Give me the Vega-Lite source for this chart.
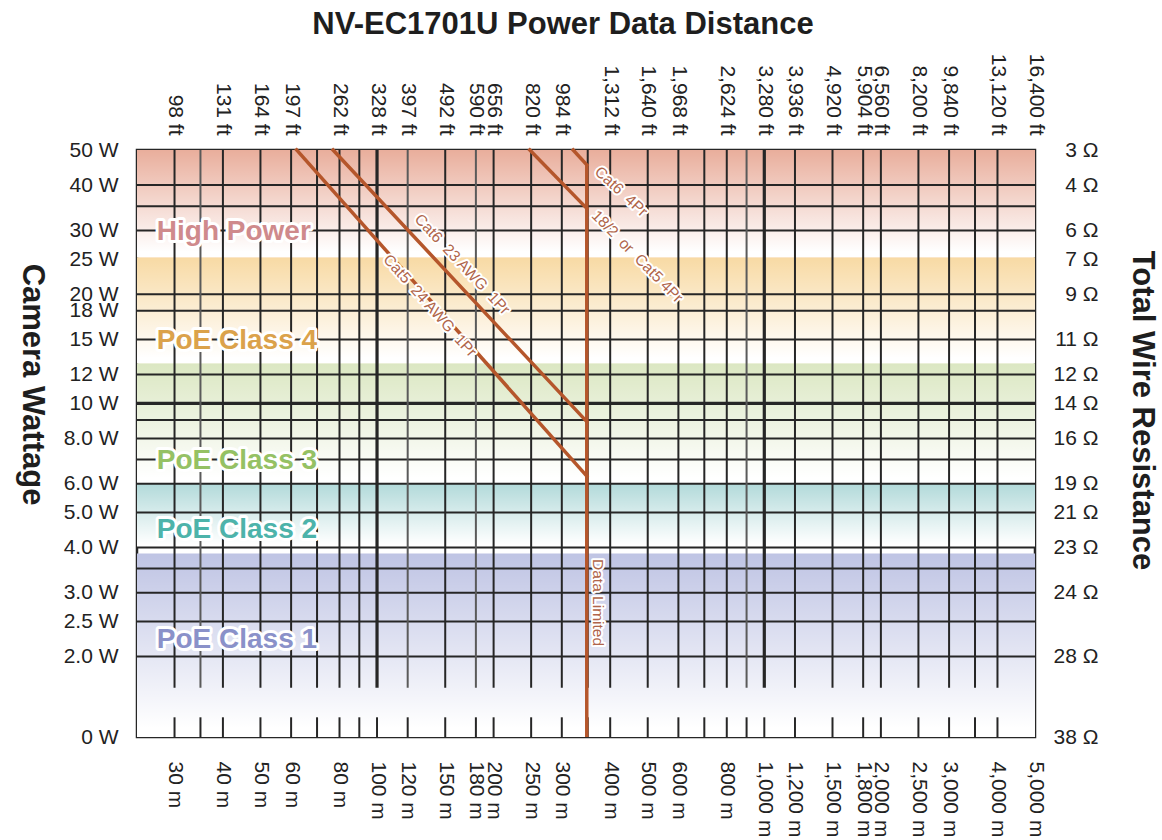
{
  "$schema": "https://vega.github.io/schema/vega-lite/v6.json",
  "width": 898,
  "height": 587,
  "autosize": {"type": "none"},
  "padding": {"left": 137, "top": 150, "right": 127, "bottom": 103},
  "background": "#ffffff",
  "config": {
    "view": {"stroke": "#262626", "strokeWidth": 2.5},
    "axis": {
      "labelFont": "Liberation Sans",
      "labelFontSize": 21,
      "labelColor": "#222222",
      "ticks": false,
      "domain": false,
      "grid": false,
      "labelOverlap": false,
      "labelFlush": false,
      "labelBound": false,
      "titleFont": "Liberation Sans",
      "titleFontSize": 31,
      "titleFontWeight": "bold",
      "titleColor": "#1e1e1e"
    }
  },
  "title": {
    "text": "NV-EC1701U Power Data Distance",
    "font": "Liberation Sans",
    "fontSize": 31,
    "fontWeight": "bold",
    "color": "#1e1e1e",
    "anchor": "middle",
    "frame": "group",
    "dx": -23,
    "offset": 12
  },
  "datasets": {
    "bands": [
      {"band": "High Power", "top": 50, "bottom": 25.3},
      {"band": "PoE Class 4", "top": 25.3, "bottom": 12.9},
      {"band": "PoE Class 3", "top": 12.9, "bottom": 6},
      {"band": "PoE Class 2", "top": 6, "bottom": 4},
      {"band": "PoE Class 1", "top": 3.85, "bottom": 1.2}
    ],
    "bandlabels": [
      {"band": "High Power", "m": 27, "W": 29.7},
      {"band": "PoE Class 4", "m": 27, "W": 14.9},
      {"band": "PoE Class 3", "m": 27, "W": 6.95},
      {"band": "PoE Class 2", "m": 27, "W": 4.47},
      {"band": "PoE Class 1", "m": 27, "W": 2.22}
    ],
    "hgrid": [
      {"W": 40}, {"W": 35}, {"W": 30}, {"W": 20}, {"W": 18}, {"W": 15}, {"W": 12}, {"W": 10}, {"W": 9},
      {"W": 8}, {"W": 7}, {"W": 6}, {"W": 5}, {"W": 4}, {"W": 3.5}, {"W": 3}, {"W": 2.5}, {"W": 2}
    ],
    "vgrid": [
      {"m": 30}, {"m": 35}, {"m": 40}, {"m": 50}, {"m": 60}, {"m": 70}, {"m": 80}, {"m": 90}, {"m": 100},
      {"m": 120}, {"m": 150}, {"m": 180}, {"m": 200}, {"m": 250}, {"m": 300}, {"m": 350}, {"m": 400},
      {"m": 500}, {"m": 600}, {"m": 700}, {"m": 800}, {"m": 900}, {"m": 1000}, {"m": 1200}, {"m": 1500},
      {"m": 1800}, {"m": 2000}, {"m": 2500}, {"m": 3000}, {"m": 3500}, {"m": 4000}
    ],
    "cables": [
      {"cable": "Cat5 24 AWG 1Pr", "m": 62, "W": 50},
      {"cable": "Cat5 24 AWG 1Pr", "m": 348, "W": 6.3},
      {"cable": "Cat6 23 AWG 1Pr", "m": 77, "W": 50},
      {"cable": "Cat6 23 AWG 1Pr", "m": 348, "W": 8.9},
      {"cable": "18/2 or Cat5 4Pr", "m": 248, "W": 50},
      {"cable": "18/2 or Cat5 4Pr", "m": 348, "W": 34.5},
      {"cable": "Cat6 4Pr", "m": 321, "W": 50},
      {"cable": "Cat6 4Pr", "m": 348, "W": 45.5}
    ],
    "limit": [
      {"cable": "Data Limited", "m": 348, "W": 1.2, "W2": 45.5}
    ],
    "linelabels": [
      {"label": "Cat6\u00a0\u00a023 AWG\u00a0\u00a01Pr", "m": 166, "W": 24.2},
      {"label": "Cat5\u00a0\u00a024 AWG\u00a0\u00a01Pr", "m": 137, "W": 18.6},
      {"label": "Cat6\u00a0\u00a04Pr", "m": 427, "W": 38.4},
      {"label": "18/2\u00a0\u00a0or\u00a0\u00a0Cat5 4Pr", "m": 470, "W": 25.4},
      {"label": "Data Limited", "m": 373, "W": 2.82}
    ]
  },
  "layer": [
    {
      "data": {"name": "bands"},
      "mark": {"type": "rect"},
      "encoding": {
        "x": {"datum": 24, "type": "quantitative", "scale": {"type": "log", "domain": [24, 5000], "nice": false}, "axis": null},
        "x2": {"datum": 5000},
        "y": {
          "field": "top", "type": "quantitative",
          "scale": {"type": "log", "domain": [1.2, 50], "nice": false},
          "axis": {
            "orient": "right",
            "values": [1.2, 2, 3, 4, 5, 6, 8, 10, 12, 15, 20, 25, 30, 40, 50],
            "labelExpr": "({'50':'3 Ω','40':'4 Ω','30':'6 Ω','25':'7 Ω','20':'9 Ω','15':'11 Ω','12':'12 Ω','10':'14 Ω','8':'16 Ω','6':'19 Ω','5':'21 Ω','4':'23 Ω','3':'24 Ω','2':'28 Ω','1.2':'38 Ω'})[datum.value]",
            "labelAlign": "right",
            "labelBaseline": "middle",
            "labelPadding": 63,
            "title": "Total Wire Resistance",
            "titleAngle": 90,
            "titleAlign": "center",
            "titleBaseline": "middle",
            "titleX": 106,
            "titleY": 260
          }
        },
        "y2": {"field": "bottom"},
        "color": {
          "field": "band", "type": "nominal",
          "scale": {
            "domain": ["High Power", "PoE Class 4", "PoE Class 3", "PoE Class 2", "PoE Class 1"],
            "range": ["#e9ae9c", "#f8daa4", "#dbe7c2", "#b2dada", "#bfc4e4"]
          },
          "legend": null
        }
      }
    },
    {
      "data": {"name": "bands"},
      "mark": {
        "type": "rect",
        "fill": {
          "gradient": "linear", "x1": 0, "y1": 0, "x2": 0, "y2": 1,
          "stops": [
            {"offset": 0, "color": "rgba(255,255,255,0)"},
            {"offset": 0.95, "color": "#ffffff"},
            {"offset": 1, "color": "#ffffff"}
          ]
        }
      },
      "encoding": {
        "x": {"datum": 24, "type": "quantitative", "scale": {"type": "log", "domain": [24, 5000], "nice": false}, "axis": null},
        "x2": {"datum": 5000},
        "y": {"field": "top", "type": "quantitative", "scale": {"type": "log", "domain": [1.2, 50], "nice": false}, "axis": null},
        "y2": {"field": "bottom"}
      }
    },
    {
      "data": {"name": "hgrid"},
      "mark": {"type": "rule", "stroke": "#262626"},
      "encoding": {
        "y": {
          "field": "W", "type": "quantitative",
          "scale": {"type": "log", "domain": [1.2, 50], "nice": false},
          "axis": {
            "orient": "left",
            "values": [1.2, 2, 2.5, 3, 4, 5, 6, 8, 10, 12, 15, 18, 20, 25, 30, 40, 50],
            "labelExpr": "datum.value < 1.5 ? '0 W' : (datum.value < 10 ? format(datum.value, '.1f') : format(datum.value, 'd')) + ' W'",
            "labelAlign": "right",
            "labelBaseline": "middle",
            "labelPadding": 19,
            "title": "Camera Wattage",
            "titleAngle": 90,
            "titleAlign": "center",
            "titleBaseline": "middle",
            "titleX": -106,
            "titleY": 234
          }
        },
        "strokeWidth": {"condition": {"test": "datum.W === 10", "value": 3.2}, "value": 2}
      }
    },
    {
      "data": {"name": "vgrid"},
      "mark": {"type": "rule"},
      "encoding": {
        "x": {
          "field": "m", "type": "quantitative",
          "scale": {"type": "log", "domain": [24, 5000], "nice": false},
          "axis": {
            "orient": "bottom",
            "values": [30, 40, 50, 60, 80, 100, 120, 150, 180, 200, 250, 300, 400, 500, 600, 800, 1000, 1200, 1500, 1800, 2000, 2500, 3000, 4000, 5000],
            "labelExpr": "format(datum.value, ',') + ' m'",
            "labelAngle": 90,
            "labelAlign": "left",
            "labelBaseline": "middle",
            "labelPadding": 24,
            "title": null
          }
        },
        "y": {"datum": 50, "type": "quantitative", "scale": {"type": "log", "domain": [1.2, 50], "nice": false}, "axis": null},
        "y2": {"datum": 1.64},
        "strokeWidth": {"condition": {"test": "datum.m === 100 || datum.m === 1000", "value": 3.2}, "value": 2},
        "stroke": {"condition": {"test": "indexof([35, 120, 180, 900], datum.m) >= 0", "value": "#5a5a5a"}, "value": "#262626"}
      }
    },
    {
      "data": {"name": "vgrid"},
      "mark": {"type": "rule", "stroke": "#262626", "strokeWidth": 2},
      "encoding": {
        "x": {
          "field": "m", "type": "quantitative",
          "scale": {"type": "log", "domain": [24, 5000], "nice": false},
          "axis": {
            "orient": "top",
            "values": [30, 40, 50, 60, 80, 100, 120, 150, 180, 200, 250, 300, 400, 500, 600, 800, 1000, 1200, 1500, 1800, 2000, 2500, 3000, 4000, 5000],
            "labelExpr": "({'30':'98 ft','40':'131 ft','50':'164 ft','60':'197 ft','80':'262 ft','100':'328 ft','120':'397 ft','150':'492 ft','180':'590 ft','200':'656 ft','250':'820 ft','300':'984 ft','400':'1,312 ft','500':'1,640 ft','600':'1,968 ft','800':'2,624 ft','1000':'3,280 ft','1200':'3,936 ft','1500':'4,920 ft','1800':'5,904 ft','2000':'6,560 ft','2500':'8,200 ft','3000':'9,840 ft','4000':'13,120 ft','5000':'16,400 ft'})[datum.value]",
            "labelAngle": 90,
            "labelAlign": "right",
            "labelBaseline": "middle",
            "labelPadding": 15,
            "title": null
          }
        },
        "y": {"datum": 1.2, "type": "quantitative", "scale": {"type": "log", "domain": [1.2, 50], "nice": false}, "axis": null},
        "y2": {"datum": 1.36}
      }
    },
    {
      "data": {"name": "cables"},
      "mark": {"type": "line", "stroke": "#b5562b", "strokeWidth": 3.5, "strokeCap": "square"},
      "encoding": {
        "x": {"field": "m", "type": "quantitative", "scale": {"type": "log", "domain": [24, 5000], "nice": false}, "axis": null},
        "y": {"field": "W", "type": "quantitative", "scale": {"type": "log", "domain": [1.2, 50], "nice": false}, "axis": null},
        "detail": {"field": "cable", "type": "nominal"}
      }
    },
    {
      "data": {"name": "limit"},
      "mark": {"type": "rule", "stroke": "#b5562b", "strokeWidth": 3.5},
      "encoding": {
        "x": {"field": "m", "type": "quantitative", "scale": {"type": "log", "domain": [24, 5000], "nice": false}, "axis": null},
        "y": {"field": "W", "type": "quantitative", "scale": {"type": "log", "domain": [1.2, 50], "nice": false}, "axis": null},
        "y2": {"field": "W2"}
      }
    },
    {
      "data": {"name": "bandlabels"},
      "mark": {
        "type": "text", "align": "left", "baseline": "middle",
        "font": "Liberation Sans",
        "fontSize": 28, "fontWeight": "bold",
        "fill": "#ffffff", "stroke": "#ffffff", "strokeWidth": 6, "strokeJoin": "round"
      },
      "encoding": {
        "x": {"field": "m", "type": "quantitative", "scale": {"type": "log", "domain": [24, 5000], "nice": false}, "axis": null},
        "y": {"field": "W", "type": "quantitative", "scale": {"type": "log", "domain": [1.2, 50], "nice": false}, "axis": null},
        "text": {"field": "band", "type": "nominal"}
      }
    },
    {
      "data": {"name": "bandlabels"},
      "mark": {
        "type": "text", "align": "left", "baseline": "middle",
        "font": "Liberation Sans",
        "fontSize": 28, "fontWeight": "bold"
      },
      "encoding": {
        "x": {"field": "m", "type": "quantitative", "scale": {"type": "log", "domain": [24, 5000], "nice": false}, "axis": null},
        "y": {"field": "W", "type": "quantitative", "scale": {"type": "log", "domain": [1.2, 50], "nice": false}, "axis": null},
        "text": {"field": "band", "type": "nominal"},
        "color": {
          "field": "band", "type": "nominal",
          "scale": {
            "domain": ["High Power", "PoE Class 4", "PoE Class 3", "PoE Class 2", "PoE Class 1"],
            "range": ["#cf8a8c", "#dba24b", "#95c164", "#4db3aa", "#8a91c9"]
          },
          "legend": null
        }
      }
    },
    {
      "data": {"name": "linelabels"},
      "mark": {
        "type": "text", "align": "center", "baseline": "middle",
        "font": "Liberation Sans", "fontSize": 15.5,
        "fill": "#ffffff", "stroke": "#ffffff", "strokeWidth": 4, "strokeJoin": "round"
      },
      "encoding": {
        "x": {"field": "m", "type": "quantitative", "scale": {"type": "log", "domain": [24, 5000], "nice": false}, "axis": null},
        "y": {"field": "W", "type": "quantitative", "scale": {"type": "log", "domain": [1.2, 50], "nice": false}, "axis": null},
        "text": {"field": "label", "type": "nominal"},
        "angle": {
          "field": "label", "type": "nominal",
          "scale": {
            "type": "ordinal",
            "domain": ["Cat6\u00a0\u00a023 AWG\u00a0\u00a01Pr", "Cat5\u00a0\u00a024 AWG\u00a0\u00a01Pr", "Cat6\u00a0\u00a04Pr", "18/2\u00a0\u00a0or\u00a0\u00a0Cat5 4Pr", "Data Limited"],
            "range": [46.8, 48.3, 43, 45.5, 90]
          },
          "legend": null
        }
      }
    },
    {
      "data": {"name": "linelabels"},
      "mark": {
        "type": "text", "align": "center", "baseline": "middle",
        "font": "Liberation Sans", "fontSize": 15.5, "fill": "#b0654a"
      },
      "encoding": {
        "x": {"field": "m", "type": "quantitative", "scale": {"type": "log", "domain": [24, 5000], "nice": false}, "axis": null},
        "y": {"field": "W", "type": "quantitative", "scale": {"type": "log", "domain": [1.2, 50], "nice": false}, "axis": null},
        "text": {"field": "label", "type": "nominal"},
        "angle": {
          "field": "label", "type": "nominal",
          "scale": {
            "type": "ordinal",
            "domain": ["Cat6\u00a0\u00a023 AWG\u00a0\u00a01Pr", "Cat5\u00a0\u00a024 AWG\u00a0\u00a01Pr", "Cat6\u00a0\u00a04Pr", "18/2\u00a0\u00a0or\u00a0\u00a0Cat5 4Pr", "Data Limited"],
            "range": [46.8, 48.3, 43, 45.5, 90]
          },
          "legend": null
        }
      }
    }
  ],
  "resolve": {
    "scale": {"color": "independent"},
    "axis": {"x": "independent", "y": "independent"}
  }
}
